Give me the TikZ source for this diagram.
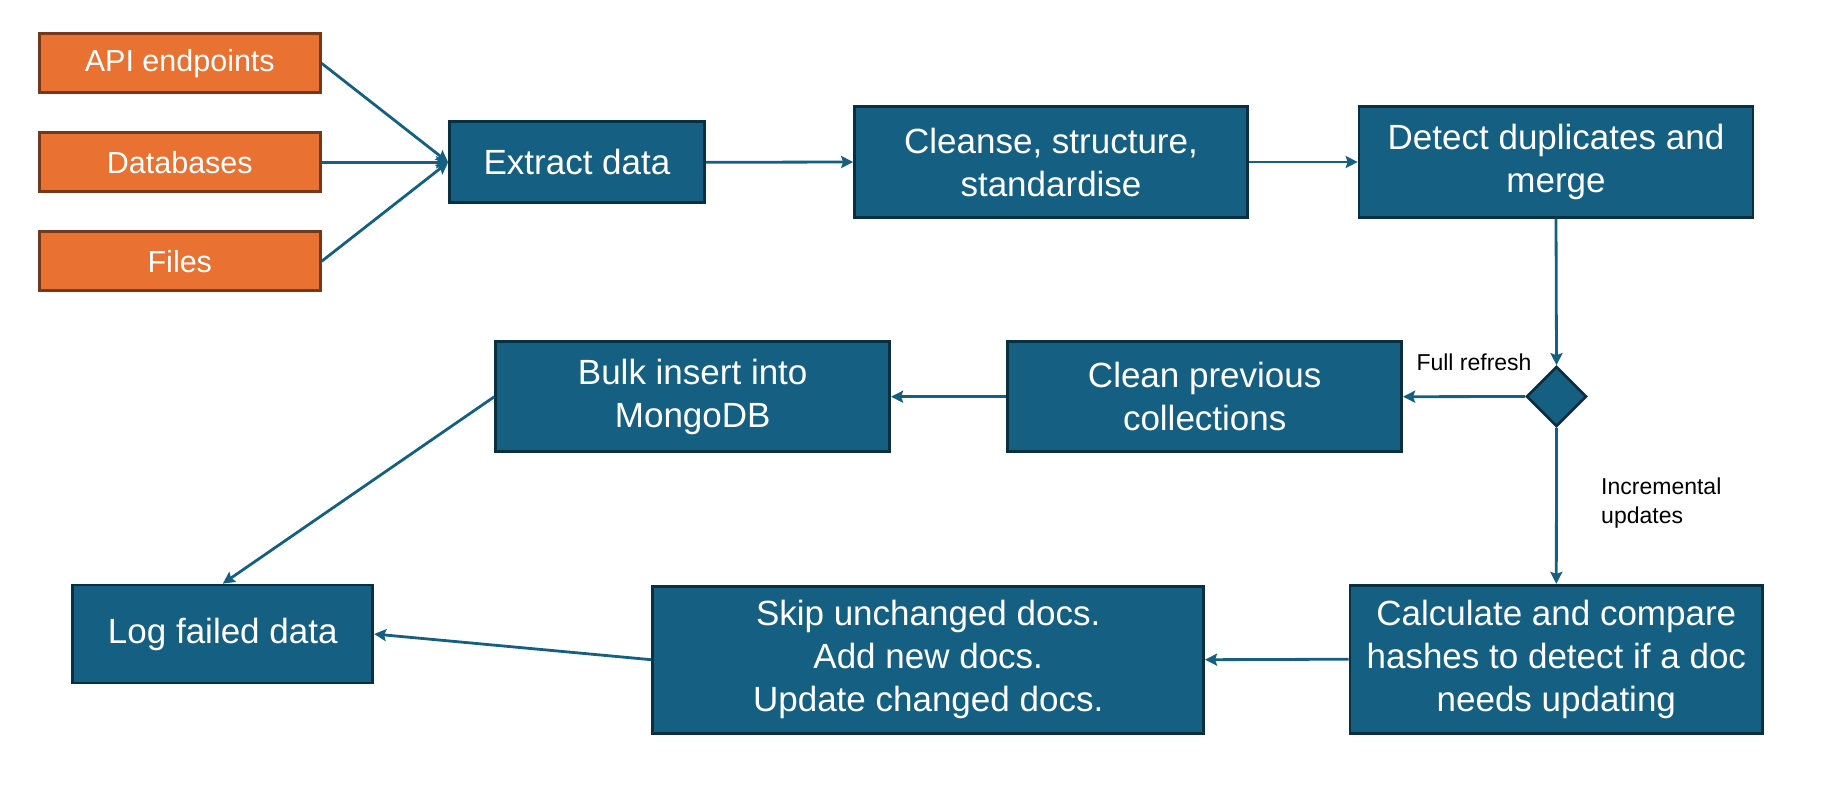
\documentclass[tikz,border=0pt]{standalone}
\usepackage{fontspec}
\setmainfont{Liberation Sans}
\usetikzlibrary{arrows.meta,shapes.geometric}
\definecolor{boxblue}{HTML}{156082}
\definecolor{boxedge}{HTML}{0A2F41}
\definecolor{srcorange}{HTML}{E97132}
\definecolor{srcedge}{HTML}{743919}
\begin{document}
\begin{tikzpicture}[x=1pt,y=-1pt,
  stepbox/.style={draw=boxedge,line width=2.7pt,fill=boxblue,text=white,
    font=\fontsize{35}{43}\selectfont,align=center,inner sep=0pt},
  srcbox/.style={draw=srcedge,line width=2.7pt,fill=srcorange,text=white,
    font=\fontsize{30.5}{38}\selectfont,inner sep=0pt,minimum width=281pt,minimum height=59pt},
  flow/.style={draw=boxblue,line width=2.8pt,-{Stealth[length=12pt,width=12pt,inset=2pt]}},
  lab/.style={text=black,font=\fontsize{23}{28.5}\selectfont,inner sep=0pt}]
\useasboundingbox (0,0) rectangle (1825,804);

\node[srcbox] (api) at (179.8,63.3) {API endpoints};
\node[srcbox] (db) at (179.8,162.3) {Databases};
\node[srcbox] (files) at (179.8,261.3) {Files};

\node[stepbox,minimum width=255pt,minimum height=81pt] (extract) at (577,162.3) {Extract data};
\node[stepbox,minimum width=393pt,minimum height=110.5pt] (cleanse) at (1051,162) {Cleanse, structure,\\standardise};
\node[stepbox,minimum width=394pt,minimum height=110.5pt] (detect) at (1556,162) {Detect duplicates and\\merge};

\node[diamond,draw=boxedge,line width=2.7pt,fill=boxblue,minimum width=60pt,minimum height=60pt,inner sep=0pt] (choice) at (1556.5,396.5) {};

\node[stepbox,minimum width=394pt,minimum height=110pt] (clean) at (1204.7,396.7) {Clean previous\\collections};
\node[stepbox,minimum width=394pt,minimum height=110pt] (bulk) at (692.7,396.7) {Bulk insert into\\MongoDB};

\node[stepbox,minimum width=300pt,minimum height=98pt] (log) at (222.8,634) {Log failed data};
\node[stepbox,minimum width=551pt,minimum height=147pt] (skip) at (928.2,659.7) {Skip unchanged docs.\\Add new docs.\\Update changed docs.};
\node[stepbox,minimum width=412.5pt,minimum height=148pt] (calc) at (1556.3,659.2) {Calculate and compare\\hashes to detect if a doc\\needs updating};

\node[lab] (fr) at (1474,362) {Full refresh};
\node[lab,anchor=west,align=left] (inc) at (1601,503) {Incremental\\updates};

\draw[flow] (api.east) -- (extract.west);
\draw[flow] (db.east) -- (extract.west);
\draw[flow] (files.east) -- (extract.west);
\draw[flow] (extract.east) -- (cleanse.west);
\draw[flow] (cleanse.east) -- (detect.west);
\draw[flow] (detect.south) -- (choice.north);
\draw[flow] (choice.west) -- (clean.east);
\draw[flow] (clean.west) -- (bulk.east);
\draw[flow] (bulk.west) -- (log.north);
\draw[flow] (choice.south) -- (calc.north);
\draw[flow] (calc.west) -- (skip.east);
\draw[flow] (skip.west) -- (log.east);
\end{tikzpicture}
\end{document}
